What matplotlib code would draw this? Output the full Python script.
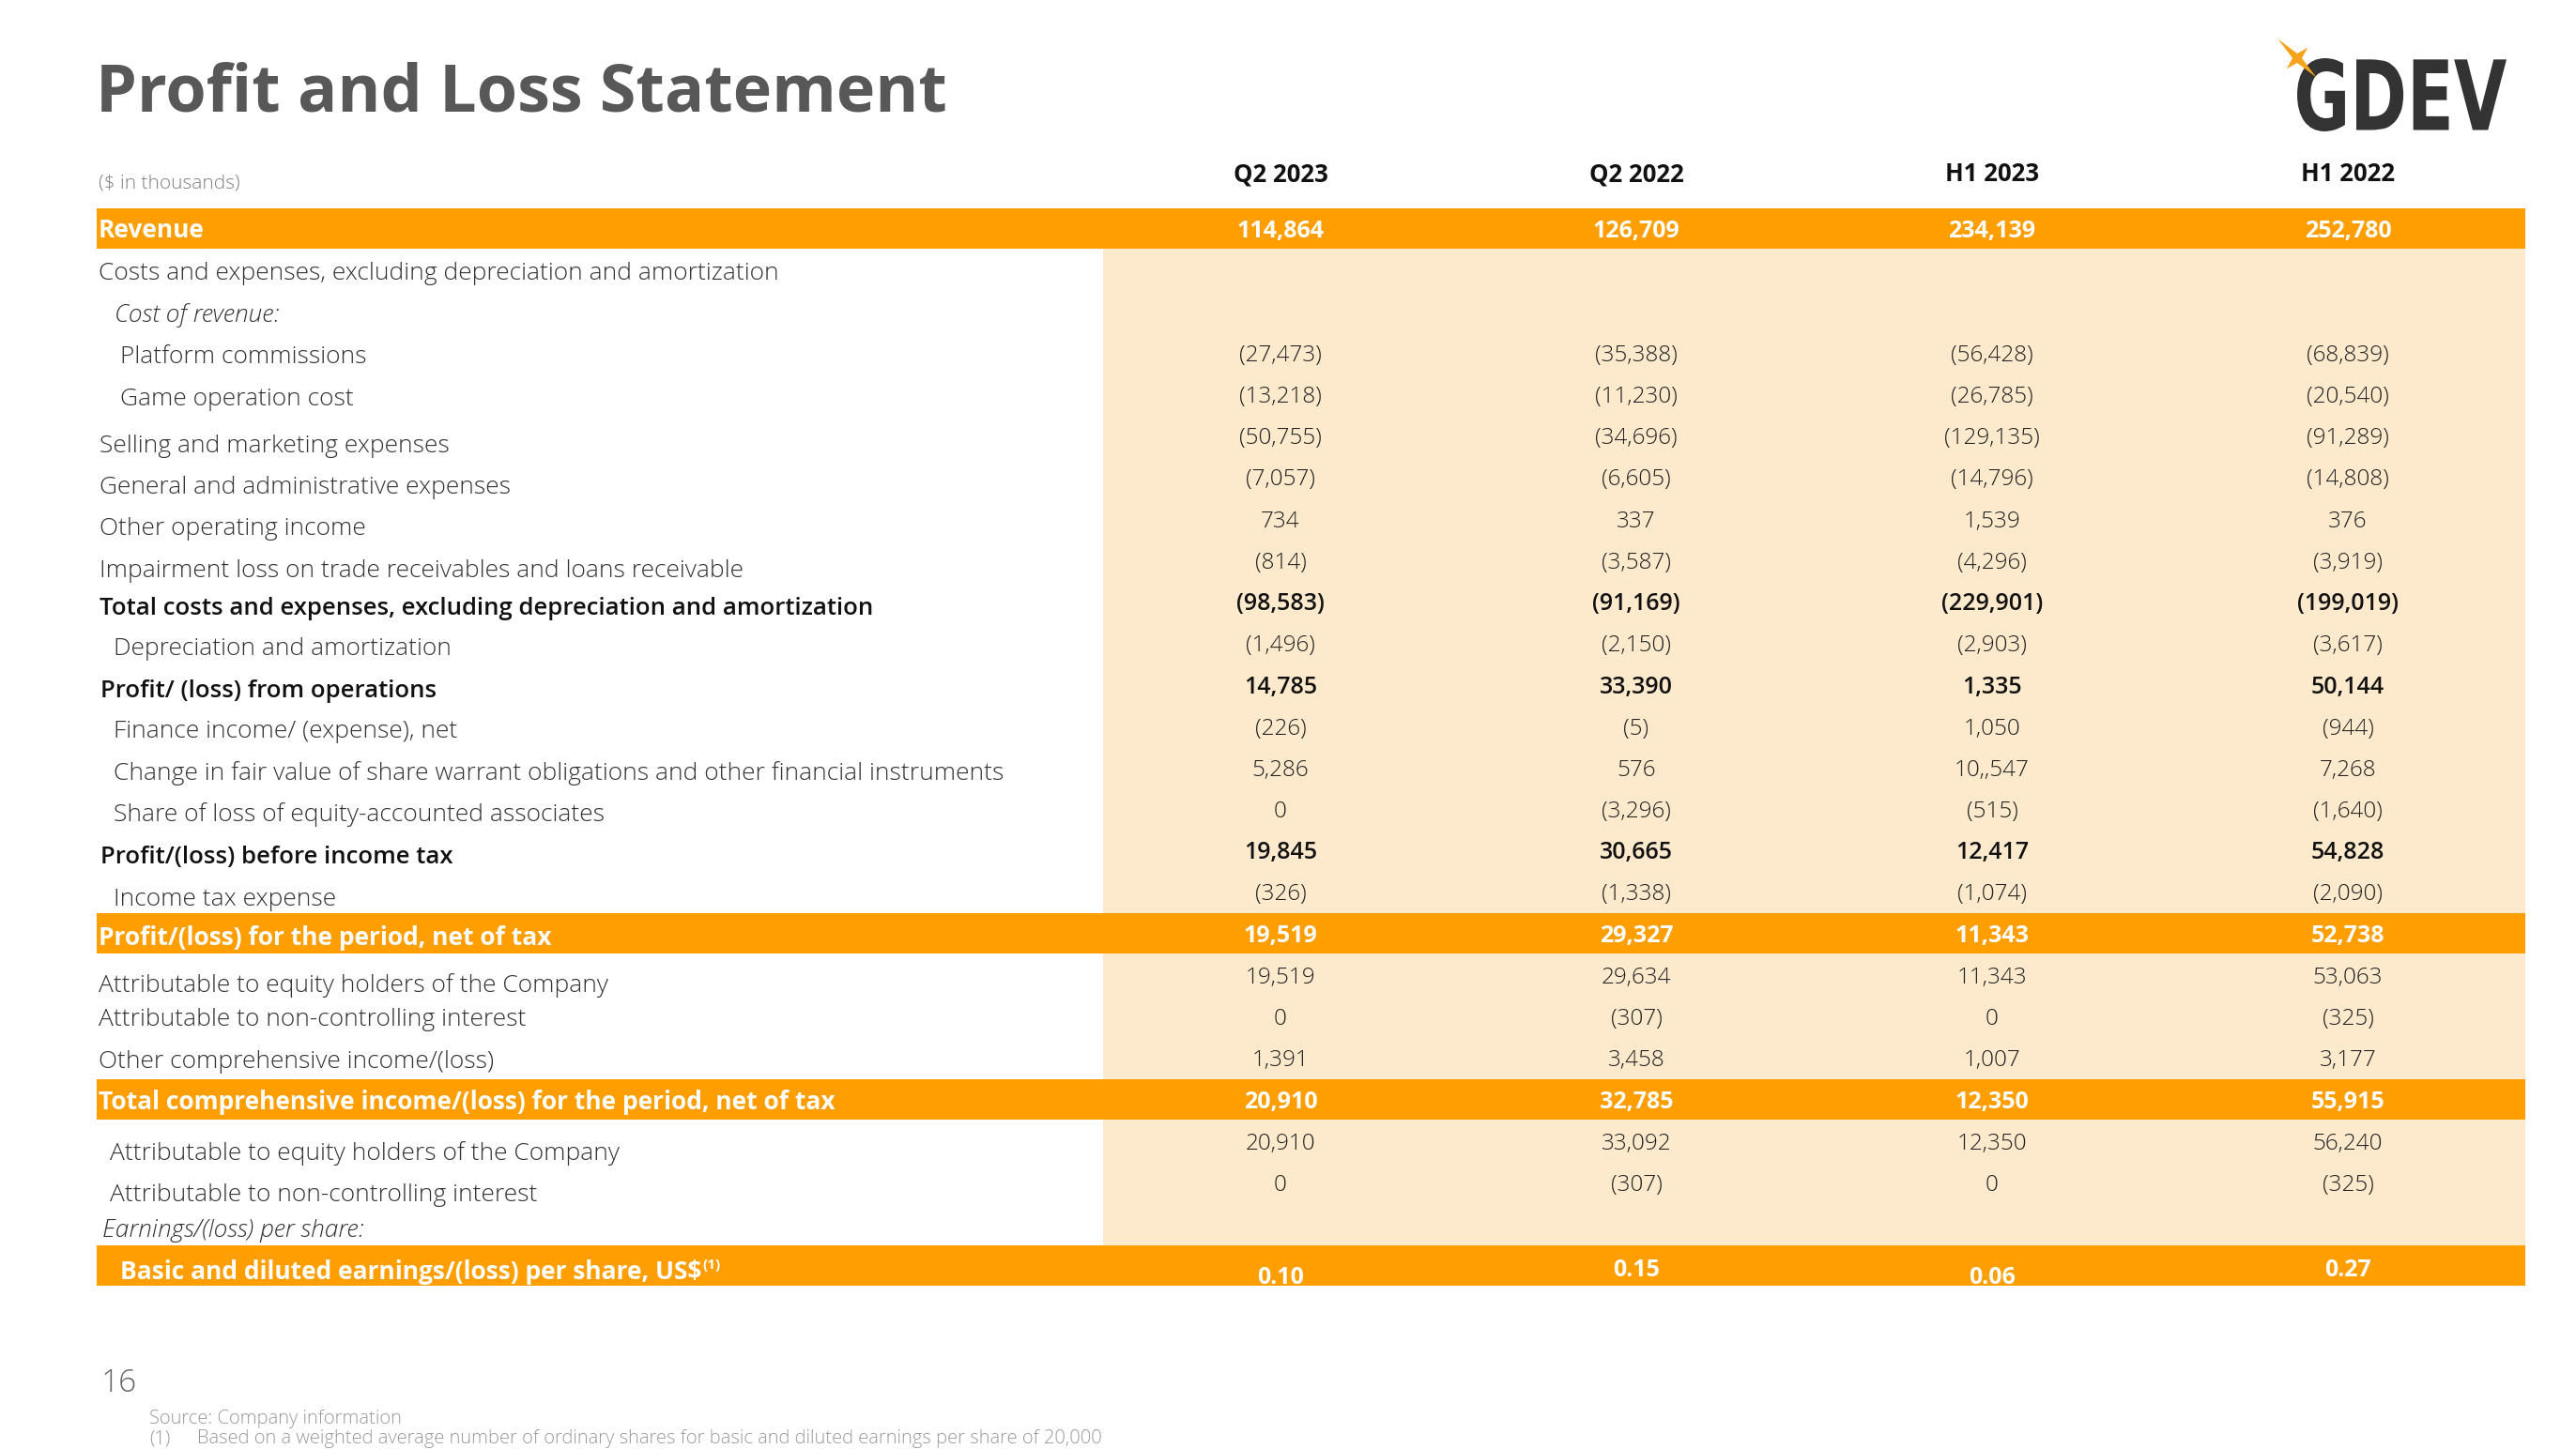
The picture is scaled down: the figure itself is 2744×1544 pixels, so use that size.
import matplotlib
matplotlib.use("Agg")
import matplotlib.pyplot as plt
from matplotlib.patches import Rectangle, PathPatch, Polygon
from matplotlib.textpath import TextPath
from matplotlib.font_manager import FontProperties
from matplotlib.transforms import Affine2D
import numpy as np

# table data
periods = ["Q2 2023", "Q2 2022", "H1 2023", "H1 2022"]

row_labels = [
    "Revenue",
    "Costs and expenses, excluding depreciation and amortization",
    "Cost of revenue:",
    "Platform commissions",
    "Game operation cost",
    "Selling and marketing expenses",
    "General and administrative expenses",
    "Other operating income",
    "Impairment loss on trade receivables and loans receivable",
    "Total costs and expenses, excluding depreciation and amortization",
    "Depreciation and amortization",
    "Profit/ (loss) from operations",
    "Finance income/ (expense), net",
    "Change in fair value of share warrant obligations and other financial instruments",
    "Share of loss of equity-accounted associates",
    "Profit/(loss) before income tax",
    "Income tax expense",
    "Profit/(loss) for the period, net of tax",
    "Attributable to equity holders of the Company",
    "Attributable to non-controlling interest",
    "Other comprehensive income/(loss)",
    "Total comprehensive income/(loss) for the period, net of tax",
    "Attributable to equity holders of the Company",
    "Attributable to non-controlling interest",
    "Earnings/(loss) per share:",
    "Basic and diluted earnings/(loss) per share, US$",
]

# row kinds: band = orange highlight, bold = subtotal, italic = sub-header
row_kind = ["band", "plain", "italic", "plain", "plain", "plain", "plain", "plain",
            "plain", "bold", "plain", "bold", "plain", "plain", "plain", "bold",
            "plain", "band", "plain", "plain", "plain", "band", "plain", "plain",
            "italic", "band"]

q2_2023 = ["114,864", "", "", "(27,473)", "(13,218)", "(50,755)", "(7,057)", "734",
           "(814)", "(98,583)", "(1,496)", "14,785", "(226)", "5,286", "0", "19,845",
           "(326)", "19,519", "19,519", "0", "1,391", "20,910", "20,910", "0", "", "0.10"]
q2_2022 = ["126,709", "", "", "(35,388)", "(11,230)", "(34,696)", "(6,605)", "337",
           "(3,587)", "(91,169)", "(2,150)", "33,390", "(5)", "576", "(3,296)", "30,665",
           "(1,338)", "29,327", "29,634", "(307)", "3,458", "32,785", "33,092", "(307)", "", "0.15"]
h1_2023 = ["234,139", "", "", "(56,428)", "(26,785)", "(129,135)", "(14,796)", "1,539",
           "(4,296)", "(229,901)", "(2,903)", "1,335", "1,050", "10,,547", "(515)", "12,417",
           "(1,074)", "11,343", "11,343", "0", "1,007", "12,350", "12,350", "0", "", "0.06"]
h1_2022 = ["252,780", "", "", "(68,839)", "(20,540)", "(91,289)", "(14,808)", "376",
           "(3,919)", "(199,019)", "(3,617)", "50,144", "(944)", "7,268", "(1,640)", "54,828",
           "(2,090)", "52,738", "53,063", "(325)", "3,177", "55,915", "56,240", "(325)", "", "0.27"]
columns = [q2_2023, q2_2022, h1_2023, h1_2022]

# layout (pixels)
W, H = 2744, 1544
ORANGE = "#FF9E00"
BEIGE = "#FDE9CC"
FONT = ["Open Sans", "DejaVu Sans"]
row_y0, row_pitch = 243.5, 44.2
col_x = [1364, 1743, 2122, 2501]
label_x = [105, 105, 122, 128, 128, 106, 106, 106, 106, 106, 121, 107, 121, 121, 121, 107,
           121, 105, 105, 105, 105, 105, 117, 117, 109, 128]
label_dy = [0, 1, 2, 1, 2, 8, 8, 8, 8, 4, 3, 4, 3, 3, 3, 4, 5, 3, 8, 0, 1, 1, 11, 10, 4, 5]
last_row_dy = [10, 2, 10, 2]

fig = plt.figure(figsize=(W / 100, H / 100), dpi=100)
ax = fig.add_axes([0, 0, 1, 1])
ax.set_xlim(0, W)
ax.set_ylim(H, 0)
ax.axis("off")


def put(x, yc, s, size, **kw):
    # place text so that its cap-height centre sits on yc
    px = size * 100 / 72
    return ax.text(x, yc + 0.36 * px, s, fontsize=size, va="baseline",
                   family=FONT, **kw)


row_y = [row_y0 + i * row_pitch for i in range(len(row_labels))]
band_rows = [i for i, k in enumerate(row_kind) if k == "band"]

# beige value area then orange bands
ax.add_patch(Rectangle((1175, row_y[0] + 21), 2690 - 1175,
                       row_y[-1] - 22 - (row_y[0] + 21), color=BEIGE, lw=0, zorder=0))
for i in band_rows:
    ax.add_patch(Rectangle((103, row_y[i] - 22), 2690 - 103, 43, color=ORANGE, lw=0, zorder=1))

# title and headers
put(102, 93, "Profit and Loss Statement", 50.5, weight="bold", color="#585858")
put(105, 193, "($ in thousands)", 15, weight="light", color="#808080")
for x, p in zip(col_x, periods):
    put(x, 184, p, 18.5, weight="bold", color="#111111", ha="center")

# rows
for i, lab in enumerate(row_labels):
    kind = row_kind[i]
    y = row_y[i] + label_dy[i]
    if kind == "band":
        t = put(label_x[i], y, lab, 19, weight="bold", color="white", zorder=3)
        if i == len(row_labels) - 1:
            ax.annotate("(1)", xy=(1, 1), xycoords=t, xytext=(1, 1), textcoords="offset points",
                        va="top", ha="left", fontsize=11, color="white", weight="bold",
                        family=FONT, zorder=3)
    elif kind == "bold":
        put(label_x[i], y, lab, 18.5, weight="semibold", color="#111111")
    elif kind == "italic":
        put(label_x[i], y, lab, 19, weight="light", style="italic", color="#333333")
    else:
        put(label_x[i], y, lab, 19, weight="light", color="#333333")

    for j, col in enumerate(columns):
        v = col[i]
        if not v:
            continue
        vy = row_y[i] + (last_row_dy[j] if i == len(row_labels) - 1 else 0)
        if kind == "band":
            put(col_x[j], vy, v, 18, weight="bold", color="white", ha="center", zorder=3)
        elif kind == "bold":
            put(col_x[j], vy, v, 18, weight="semibold", color="#111111", ha="center")
        else:
            put(col_x[j], vy, v, 17.5, weight="light", color="#222222", ha="center")

# logo: four-point spark plus block letters
fp = FontProperties(family="DejaVu Sans", weight="bold")
tp = TextPath((0, 0), "GDEV", size=100, prop=fp)
ext = tp.get_extents()
sx = (2670 - 2447) / ext.width
sy = (140 - 62) / ext.height
tr = Affine2D().translate(-ext.x0, -ext.y0).scale(sx, -sy).translate(2447, 140)
ax.add_patch(PathPatch(tr.transform_path(tp), color="#333333", lw=0, zorder=2))
cx, cy = 2447, 62
L, S, w = 29, 16, 3.5
pts = np.array([[-L, 0], [-w, -w], [0, -S], [w, -w], [L, 0], [w, w], [0, S], [-w, w]])
rot = np.array([[np.cos(np.pi / 4), -np.sin(np.pi / 4)], [np.sin(np.pi / 4), np.cos(np.pi / 4)]])
ax.add_patch(Polygon(pts @ rot.T + [cx, cy], closed=True, color="#F7A21B", lw=0, zorder=3))

# footer
put(108, 1471, "16", 24, weight="light", color="#666666")
put(159, 1510, "Source: Company information", 14.5, weight="light", color="#999999")
put(159, 1531, "(1)", 14.5, weight="light", color="#999999")
put(210, 1531, "Based on a weighted average number of ordinary shares for basic and diluted "
    "earnings per share of 20,000", 14.5, weight="light", color="#999999")

fig.savefig("out.png", dpi=100)
